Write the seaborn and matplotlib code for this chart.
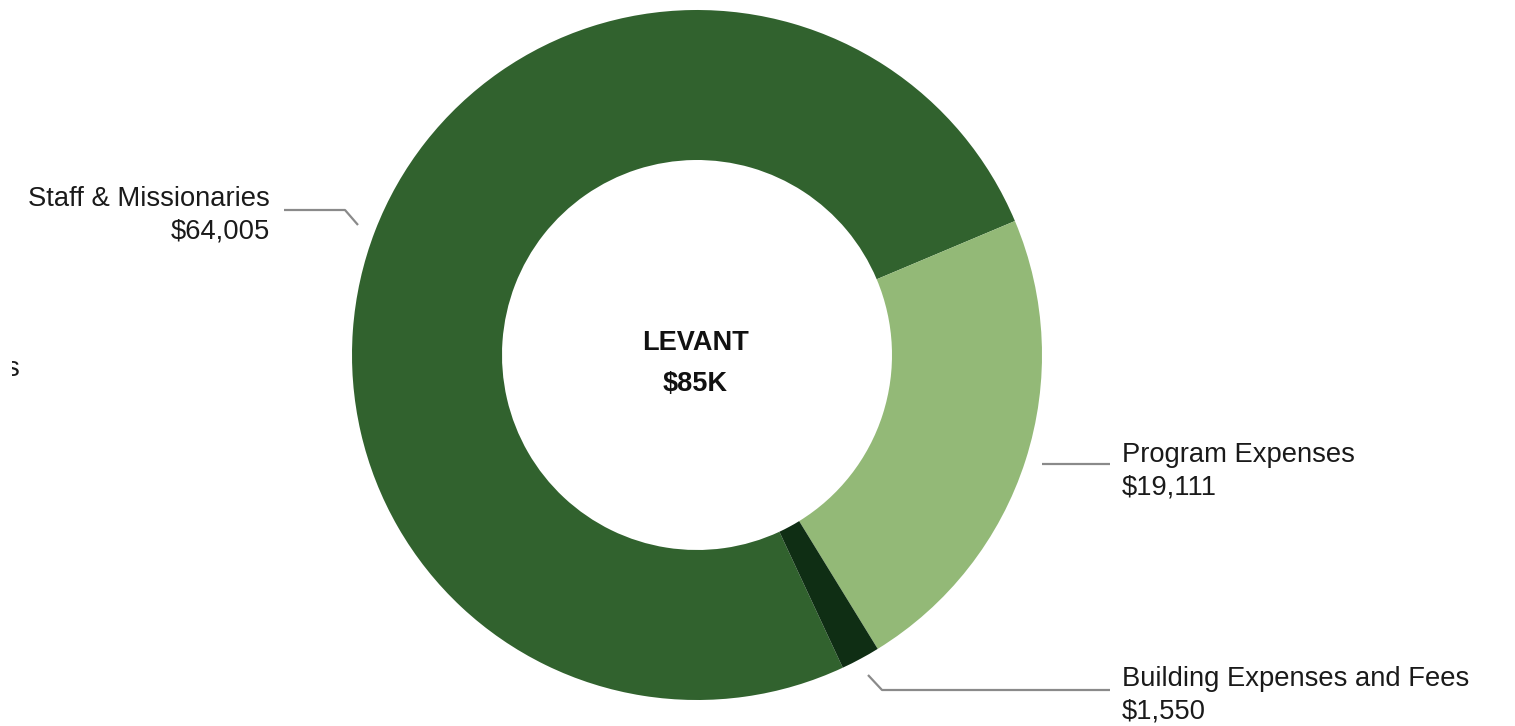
import matplotlib
matplotlib.use("Agg")
import matplotlib.pyplot as plt
from matplotlib.transforms import Bbox, TransformedBbox
import seaborn as sns

# chart data
categories = ["Staff & Missionaries", "Program Expenses", "Building Expenses and Fees"]
amounts = [64005, 19111, 1550]
colors = ["#31622E", "#93B977", "#0F2E14"]
center_title = "LEVANT"
center_value = "$85K"

sns.set_theme(style="white")
plt.rcParams['font.family'] = ['Liberation Sans', 'DejaVu Sans']

W, H = 1515, 726
fig = plt.figure(figsize=(W / 100, H / 100), dpi=100)
ax = fig.add_axes([0, 0, 1, 1])
ax.axis("off")


def Y(py):
    # image rows (top-down) -> axes y
    return H - py


cx, cy, r_out, r_in = 697, 355, 345, 195
ax.pie(amounts, colors=colors, startangle=295, counterclock=False,
       center=(cx, Y(cy)), radius=r_out,
       wedgeprops=dict(width=r_out - r_in, linewidth=0))
ax.set_xlim(0, W)
ax.set_ylim(0, H)
ax.set_aspect("equal")

# centre text
ax.text(cx - 2, Y(343), center_title, ha="center", va="center",
        fontsize=19.5, fontweight="bold", color="#111111")
ax.text(cx - 2, Y(384), center_value, ha="center", va="center",
        fontsize=19.5, fontweight="bold", color="#111111")


def fmt(v):
    return "${:,}".format(v)


line_kw = dict(color="#8a8a8a", linewidth=1.6, solid_capstyle="butt")
lab_kw = dict(fontsize=19.7, color="#1a1a1a", va="center")


def label(x, y, name, value, ha):
    ax.text(x, Y(y), name, ha=ha, **lab_kw)
    ax.text(x, Y(y + 33), fmt(value), ha=ha, **lab_kw)


# Staff & Missionaries (left)
ax.plot([284, 345, 358], [Y(210), Y(210), Y(225)], **line_kw)
label(270, 199, categories[0], amounts[0], "right")

# Program Expenses (right)
ax.plot([1042, 1110], [Y(464), Y(464)], **line_kw)
label(1122, 455, categories[1], amounts[1], "left")

# Building Expenses and Fees (bottom right)
ax.plot([868, 882, 1110], [Y(675), Y(690), Y(690)], **line_kw)
label(1122, 679, categories[2], amounts[2], "left")

# clipped fragment of an off-canvas label at the left edge
frag = ax.text(19, Y(369), "s", ha="right", va="center", fontsize=19.7, color="#1a1a1a")
frag.set_clip_box(TransformedBbox(Bbox([[12, 0], [40, H]]), ax.transData))
frag.set_clip_on(True)

fig.savefig("out.png", dpi=100)
